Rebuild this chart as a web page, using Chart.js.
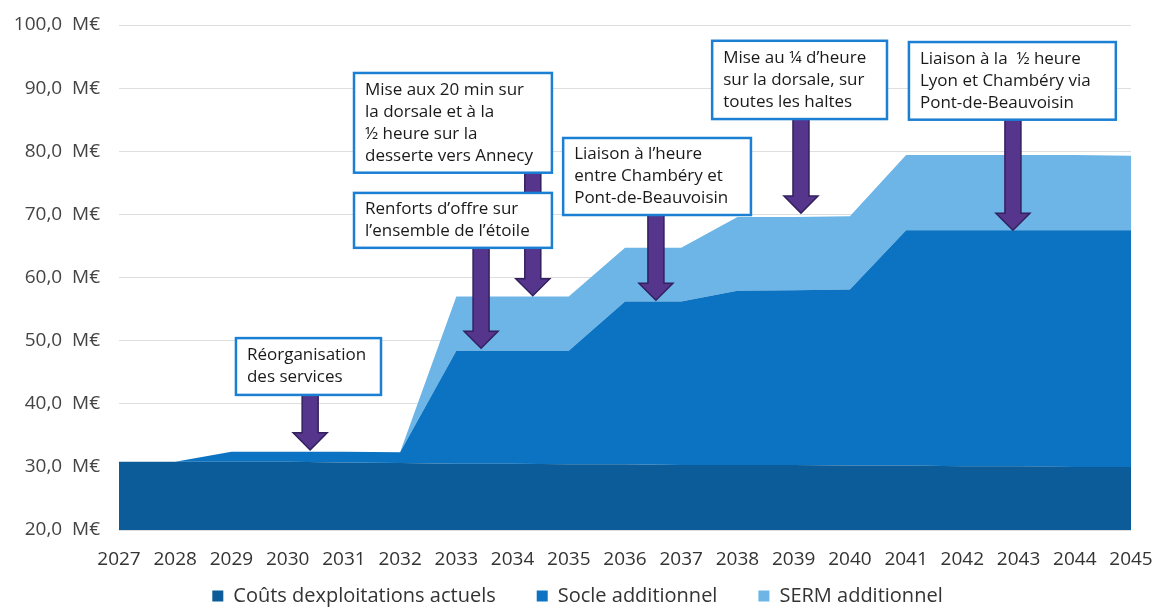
<!DOCTYPE html>
<html lang="fr">
<head>
<meta charset="utf-8">
<title>Coûts d'exploitation 2027-2045</title>
<script src="https://cdn.jsdelivr.net/npm/chart.js@4.4.1/dist/chart.umd.min.js"></script>
<style>
  html, body { margin: 0; padding: 0; background: #ffffff; overflow: hidden; }
  #wrap { position: relative; width: 1153px; height: 608px; }
</style>
</head>
<body>
<div id="wrap"><canvas id="costChart"></canvas></div>
<script>
// Années (axe X)
const annees = ['2027', '2028', '2029', '2030', '2031', '2032', '2033', '2034', '2035', '2036',
                '2037', '2038', '2039', '2040', '2041', '2042', '2043', '2044', '2045'];

// Séries empilées (M€)
const coutsActuels = [30.8, 30.8, 30.8, 30.8, 30.7, 30.6, 30.5, 30.5, 30.4, 30.4,
                      30.3, 30.3, 30.3, 30.2, 30.2, 30.1, 30.1, 30.0, 30.0];
const socleAdditionnel = [0.0, 0.0, 1.6, 1.6, 1.7, 1.7, 17.9, 17.9, 18.0, 25.8,
                          25.9, 27.6, 27.7, 27.9, 37.3, 37.4, 37.4, 37.5, 37.5];
const sermAdditionnel = [0.0, 0.0, 0.0, 0.0, 0.0, 0.0, 8.6, 8.6, 8.6, 8.5,
                         8.5, 11.7, 11.6, 11.6, 11.9, 11.9, 11.9, 11.9, 11.8];

// Graduations de l'axe Y
const yMin = 20;
const yMax = 100;
const yPas = 10;

// Encadrés + flèches (x = index d'année, y = valeur M€)
const annotations = [
  { lignes: ['Réorganisation', 'des services'], x0: 2.08, x1: 4.66, yHaut: 50.4, yBas: 41.4, flecheX: 3.40, pointe: 32.7 },
  { lignes: ['Mise aux 20 min sur', 'la dorsale et à la', '½ heure sur la', 'desserte vers Annecy'], x0: 4.18, x1: 7.70, yHaut: 92.4, yBas: 76.6, flecheX: 7.36, pointe: 57.1 },
  { lignes: ['Renforts d\u2019offre sur', 'l\u2019ensemble de l\u2019étoile'], x0: 4.18, x1: 7.70, yHaut: 73.4, yBas: 64.7, flecheX: 6.44, pointe: 48.8 },
  { lignes: ['Liaison à l\u2019heure', 'entre Chambéry et', 'Pont-de-Beauvoisin'], x0: 7.90, x1: 11.24, yHaut: 82.1, yBas: 69.9, flecheX: 9.55, pointe: 56.4 },
  { lignes: ['Mise au ¼ d\u2019heure', 'sur la dorsale, sur', 'toutes les haltes'], x0: 10.55, x1: 13.66, yHaut: 97.5, yBas: 85.1, flecheX: 12.13, pointe: 70.2 },
  { lignes: ['Liaison à la  ½ heure', 'Lyon et Chambéry via', 'Pont-de-Beauvoisin'], x0: 14.05, x1: 17.73, yHaut: 97.3, yBas: 85.0, flecheX: 15.90, pointe: 67.5 }
];

const FONT = "'Open Sans', 'Noto Sans', sans-serif";

// Flèche violette verticale
function drawArrow(ctx, cx, yStart, yTip) {
  const demiTige = 8;
  const demiTete = 17;
  const hTete = 17;
  ctx.beginPath();
  ctx.moveTo(cx - demiTige, yStart);
  ctx.lineTo(cx + demiTige, yStart);
  ctx.lineTo(cx + demiTige, yTip - hTete);
  ctx.lineTo(cx + demiTete, yTip - hTete);
  ctx.lineTo(cx, yTip);
  ctx.lineTo(cx - demiTete, yTip - hTete);
  ctx.lineTo(cx - demiTige, yTip - hTete);
  ctx.closePath();
  ctx.fillStyle = '#56368c';
  ctx.fill();
  ctx.lineWidth = 1.5;
  ctx.strokeStyle = '#33205f';
  ctx.stroke();
}

const annotationsPlugin = {
  id: 'annotations',
  afterDatasetsDraw(chart) {
    const { ctx, scales: { x, y } } = chart;
    ctx.save();

    // 1. Flèches (sous les encadrés)
    annotations.forEach(a => {
      drawArrow(ctx, x.getPixelForValue(a.flecheX), y.getPixelForValue(a.yBas), y.getPixelForValue(a.pointe));
    });

    // 2. Encadrés avec texte
    annotations.forEach(a => {
      const left = x.getPixelForValue(a.x0);
      const right = x.getPixelForValue(a.x1);
      const top = y.getPixelForValue(a.yHaut);
      const bottom = y.getPixelForValue(a.yBas);
      ctx.fillStyle = '#ffffff';
      ctx.fillRect(left, top, right - left, bottom - top);
      ctx.lineWidth = 2.5;
      ctx.strokeStyle = '#1b7fd3';
      ctx.strokeRect(left, top, right - left, bottom - top);

      const lh = 22;
      const y0 = (top + bottom) / 2 - (a.lignes.length * lh) / 2 + lh / 2;
      ctx.fillStyle = '#1a1a1a';
      ctx.font = '17px ' + FONT;
      ctx.textAlign = 'left';
      ctx.textBaseline = 'middle';
      a.lignes.forEach((t, i) => ctx.fillText(t, left + 11, y0 + i * lh));
    });

    ctx.restore();
  }
};

// Remonte la légende (espacement horizontal large, mais proche de l'axe)
const legendShift = {
  id: 'legendShift',
  afterLayout(chart) {
    if (!chart.legend) return;
    chart.legend.top -= 25;
    chart.legend.left += 24;
  }
};

const ctx = document.getElementById('costChart').getContext('2d');

new Chart(ctx, {
  type: 'line',
  data: {
    labels: annees,
    datasets: [
      {
        label: 'Coûts dexploitations actuels',
        data: coutsActuels,
        backgroundColor: '#0b5c99',
        borderWidth: 0,
        fill: 'origin'
      },
      {
        label: 'Socle additionnel',
        data: socleAdditionnel,
        backgroundColor: '#0b73c2',
        borderWidth: 0,
        fill: '-1'
      },
      {
        label: 'SERM additionnel',
        data: sermAdditionnel,
        backgroundColor: '#6cb5e6',
        borderWidth: 0,
        fill: '-1'
      }
    ]
  },
  options: {
    responsive: true,
    maintainAspectRatio: false,
    animation: false,
    elements: { point: { radius: 0, hoverRadius: 0 }, line: { tension: 0 } },
    layout: { padding: { top: 25, right: 22, bottom: -33, left: 0 } },
    plugins: {
      tooltip: { enabled: false },
      legend: {
        position: 'bottom',
        labels: {
          boxWidth: 11,
          boxHeight: 11,
          padding: 41,
          color: '#333333',
          font: { family: FONT, size: 20 }
        }
      }
    },
    scales: {
      x: {
        grid: { display: false, drawTicks: false },
        border: { display: false },
        ticks: {
          padding: 0,
          color: '#333333',
          font: { family: FONT, size: 19, lineHeight: '60px' },
          maxRotation: 0,
          autoSkip: false
        },
        afterFit: (scale) => { scale.height = 40; }
      },
      y: {
        stacked: true,
        min: yMin,
        max: yMax,
        grid: { color: '#dedede', drawTicks: false },
        border: { display: false },
        ticks: {
          stepSize: yPas,
          padding: 19,
          color: '#444444',
          font: { family: FONT, size: 19, lineHeight: '12px' },
          callback: (v) => v.toFixed(1).replace('.', ',') + '  M€'
        },
        afterFit: (scale) => { scale.width = 119; }
      }
    }
  },
  plugins: [annotationsPlugin, legendShift]
});
</script>
</body>
</html>
